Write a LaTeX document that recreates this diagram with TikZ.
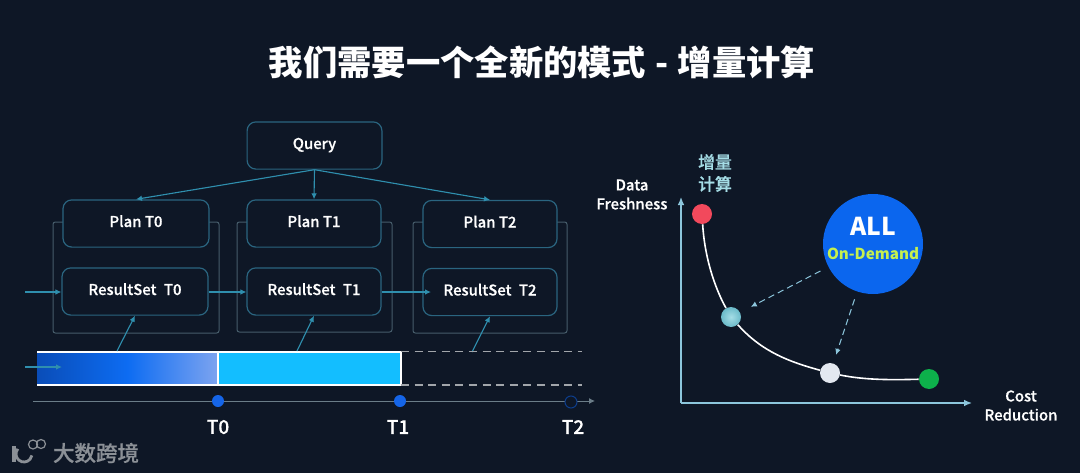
\documentclass[tikz,border=0pt]{standalone}
\usepackage{fontspec}
\setmainfont{Noto Sans CJK SC}
\newfontfamily\midfont[FakeBold=0.5]{Noto Sans CJK SC Medium}
\usetikzlibrary{arrows.meta,calc,positioning}
\definecolor{Canvas}{HTML}{0E1726}
\definecolor{BoxLine}{HTML}{2A6580}
\definecolor{FrameLine}{HTML}{465C6A}
\definecolor{LinkTeal}{HTML}{2F8FAE}
\definecolor{AxisBlue}{HTML}{8CC6DC}
\definecolor{BarCyan}{HTML}{13BEFF}
\definecolor{BarDeep}{HTML}{0A4DB8}
\definecolor{BarMid}{HTML}{0D6CF2}
\definecolor{BarPale}{HTML}{7DA4F0}
\definecolor{DotBlue}{HTML}{1565E8}
\definecolor{AllBlue}{HTML}{0B66EE}
\definecolor{LimeText}{HTML}{C6F04E}
\definecolor{RedDot}{HTML}{F2495C}
\definecolor{GreenDot}{HTML}{0DB14B}
\definecolor{PaleDot}{HTML}{E3E8F0}
\definecolor{MarkGrey}{HTML}{8B9096}
\definecolor{SoftCyan}{HTML}{A5DDE6}
\definecolor{BallTeal}{HTML}{6BBAC9}
\pgfdeclarehorizontalshading{barfade}{100bp}{color(0bp)=(BarDeep); color(25bp)=(BarDeep); color(50bp)=(BarMid); color(75bp)=(BarPale); color(100bp)=(BarPale)}

\begin{document}
\begin{tikzpicture}[x=0.25mm,y=-0.25mm,every node/.style={font=\bfseries,text=white},box/.style={draw=BoxLine,fill=Canvas,line width=0.3mm,rounded corners=2.2mm,minimum height=11.8mm,inner sep=0pt,text height=2.75mm,text depth=1mm,font=\midfont\fontsize{10.6}{13}\selectfont},frame/.style={draw=FrameLine,line width=0.25mm,rounded corners=0.6mm},link/.style={-{Latex[length=1.5mm,width=1.4mm]},line width=0.28mm,draw=LinkTeal},dasharrow/.style={-{Latex[length=1.5mm,width=1.4mm]},line width=0.25mm,draw=AxisBlue,dash pattern=on 1.6mm off 1mm},axis/.style={-{Latex[length=2mm,width=1.7mm]},line width=0.35mm,draw=AxisBlue},tick/.style={circle,minimum size=3mm,inner sep=0pt,fill=DotBlue},spot/.style={circle,minimum size=5mm,inner sep=0pt},curve/.style={line width=0.4mm,draw=white},dashrule/.style={draw=MarkGrey!80!white,line width=0.4mm,dash pattern=on 2mm off 1.4mm},barline/.style={draw=white,line width=0.45mm},axislabel/.style={font=\midfont\fontsize{10.6}{13.5}\selectfont,align=center},barbox/.style={minimum height=8.33mm,inner sep=0pt,outer sep=0pt}]
\fill[Canvas] (0,0) rectangle (1080,473);
\useasboundingbox (0,0) rectangle (1080,473);

\node[font=\bfseries\fontsize{24.4}{28}\selectfont] (title) at (542,62.5) {我们需要一个全新的模式\kern1pt{} - \kern1pt{}增量计算};

% frames behind the plan and result boxes
\draw[frame] (63,222) -- (53,222) -- (53,333) -- (219,333) -- (219,222) -- (209,222);
\draw[frame] (247,222) -- (237,222) -- (237,332) -- (392,332) -- (392,222) -- (381,222);
\draw[frame] (423,222) -- (413,222) -- (413,333) -- (567,333) -- (567,222) -- (557,222);

\node[box,minimum width=33.7mm] (query) at (314.5,145.5) {Query\hspace{2mm}};
\node[box,minimum width=36.5mm] (planA) at (136,223.5) {Plan T0};
\node[box,minimum width=33.5mm] (planB) at (314,223.5) {Plan T1};
\node[box,minimum width=33.5mm] (planC) at (490,224) {Plan T2\hspace{1mm}};
\node[box,minimum width=36.5mm] (resA) at (135,291.5) {ResultSet\,\,\,T0};
\node[box,minimum width=33.5mm] (resB) at (314,291.5) {ResultSet\,\,\,T1};
\node[box,minimum width=33.5mm] (resC) at (490,292) {ResultSet\,\,\,T2};

\draw[link] (query.south) -- (planA.north);
\draw[link] (query.south) -- (planB.north);
\draw[link] (query.south) -- (planC.north);

% bar along the time line
\node[barbox,shading=barfade,minimum width=45.2mm] (barA) at (127.5,368.3) {};
\node[barbox,draw=white,line width=0.45mm,fill=BarCyan,minimum width=45.7mm] (barB) at (309.5,368.3) {};
\draw[barline] (barA.north west) -- (barA.north east);
\draw[barline] (barA.south west) -- (barA.south east);

\coordinate (inA) at (25,292);
\coordinate (inB) at (25,367);
\coordinate (inBEnd) at (62,367);
\coordinate (feedA) at (117,351);
\coordinate (feedB) at (297,351);
\coordinate (feedC) at (472,352);
\coordinate (resCin) at (431,292);
\draw[link] (inA) -- (resA.west |- inA);
\draw[link] (resA.east |- inA) -- (resB.west |- inA);
\draw[link] (resB.east |- inA) -- (resCin);
\draw[link] (inB) -- (inBEnd);
\draw[link] (feedA) -- (resA.south);
\draw[link] (feedB) -- (resB.south);
\draw[link] (feedC) -- (resC.south);

\coordinate (dashEnd) at (582,368);
\draw[dashrule] (barB.north east) -- (barB.north east -| dashEnd);
\draw[dashrule] (barB.south east) -- (barB.south east -| dashEnd);

% time line
\coordinate (timeStart) at (33,401);
\coordinate (timeEnd) at (595,401);
\draw[-{Latex[length=1.5mm,width=1.5mm]},line width=0.25mm,draw=FrameLine!80!white] (timeStart) -- (timeEnd);
\node[tick] (tickA) at (218,401) {};
\node[tick] (tickB) at (400,401) {};
\node[tick,fill=Canvas,draw=DotBlue!60!black,line width=0.25mm] (tickC) at (571,402) {};
\node[font=\midfont\fontsize{13.5}{15}\selectfont] (labA) at (218,427) {T0};
\node[font=\midfont\fontsize{13.5}{15}\selectfont] (labB) at (398,427) {T1};
\node[font=\midfont\fontsize{13.5}{15}\selectfont] (labC) at (573,427) {T2};

% right chart
\coordinate (origin) at (681,403);
\coordinate (axisTop) at (681,197);
\coordinate (axisEnd) at (972,403);
\draw[axis] (origin) -- (axisTop);
\draw[axis] (origin) -- (axisEnd);
\node[spot,fill=RedDot] (dotRed) at (702,214) {};
\node[spot,inner color=SoftCyan,outer color=BallTeal] (dotTeal) at (731,317) {};
\node[spot,fill=PaleDot] (dotPale) at (830,373) {};
\node[spot,fill=GreenDot] (dotGreen) at (929,379) {};
\draw[curve] (dotRed) .. controls (705,262) and (717,292) .. (dotTeal);
\draw[curve] (dotTeal) .. controls (762,352) and (790,362) .. (dotPale);
\draw[curve] (dotPale) .. controls (865,380) and (890,380) .. (dotGreen);

\node[circle,fill=AllBlue,minimum size=25mm,inner sep=0pt] (allNode) at (873,244) {};
\node[font=\bfseries\fontsize{17.5}{20}\selectfont] (allText) at (873,226) {ALL};
\node[font=\bfseries\fontsize{10.8}{13}\selectfont,text=LimeText] (demand) at (873,254) {On-Demand};
\draw[dasharrow,shorten <=2.2mm,shorten >=3mm] (allNode) -- (dotTeal);
\draw[dasharrow,shorten <=2mm,shorten >=2.2mm] (allNode) -- (dotPale);

\node[font=\midfont\fontsize{12}{15.6}\selectfont,align=center,text=SoftCyan] (incr) at (715,173) {增量\\计算};
\node[axislabel] (fresh) at (632,194.5) {Data\\Freshness};
\node[axislabel] (cost) at (1021,405.5) {Cost\\Reduction};

% logo and mark at the lower left
\draw[MarkGrey,line width=1mm] (13.5,446) -- (13.5,462);
\draw[MarkGrey,line width=0.7mm] (24,454) ++(220:8) arc (220:10:8);
\draw[MarkGrey,line width=0.3mm] (33,444.5) circle (4.5);
\draw[MarkGrey,line width=0.3mm] (41,444) circle (4.5);
\node[font=\midfont\fontsize{15.3}{17}\selectfont,text=MarkGrey] (mark) at (96,453) {大数跨境};

\end{tikzpicture}
\end{document}
